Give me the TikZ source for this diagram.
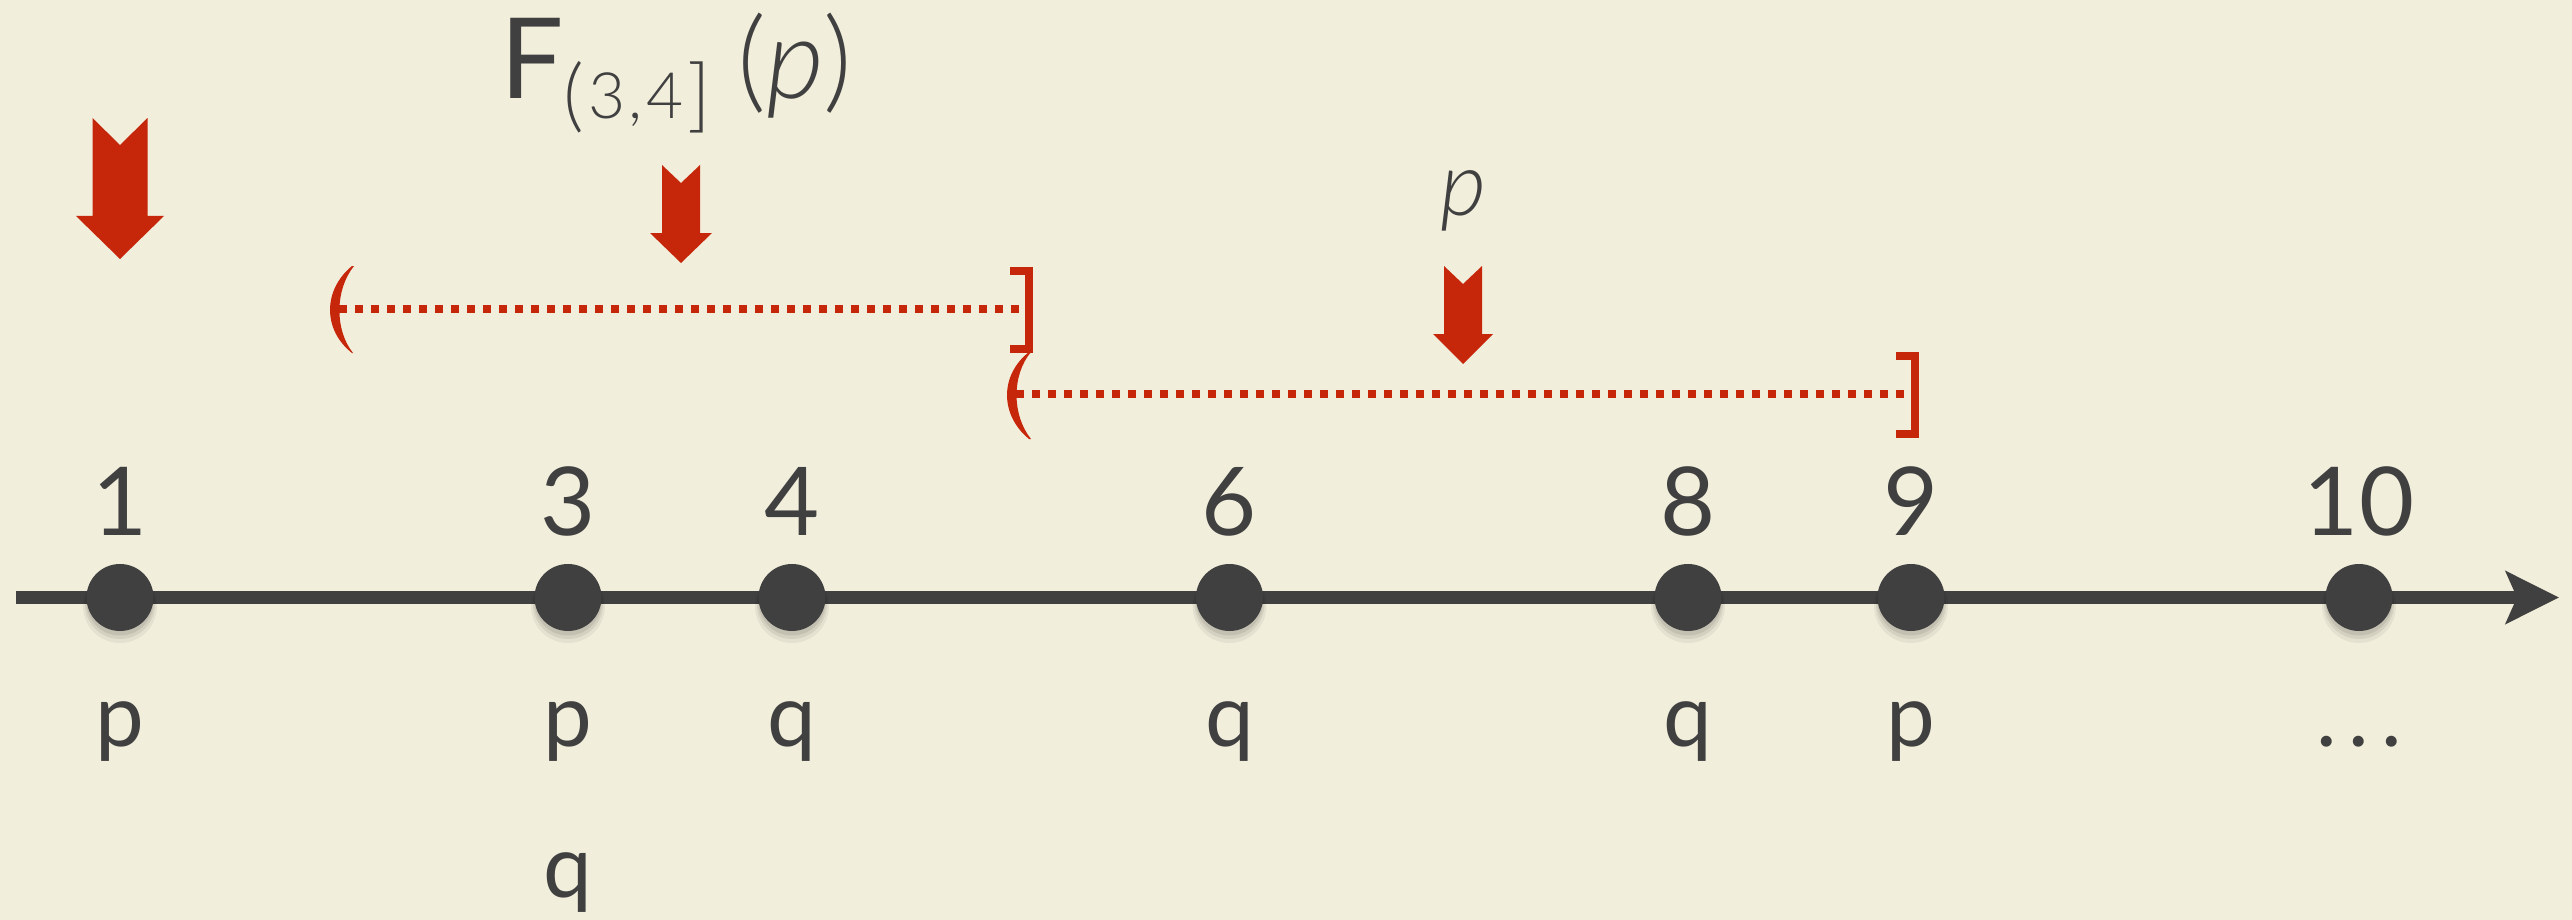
\documentclass[tikz,border=0pt]{standalone}
\usepackage{fontspec}
\setmainfont{Lato}
\newfontfamily\lightfont{Lato Light}
\usetikzlibrary{arrows.meta}
\definecolor{bg}{HTML}{F2EEDC}
\definecolor{ink}{HTML}{404040}
\definecolor{myred}{HTML}{C6260A}
\tikzset{
  pics/redarrow/.style n args={5}{code={
    \fill[myred] (-#1,0) -- (0,#2) -- (#1,0) -- (#1,#3) -- (#4,#3) -- (0,#5) -- (-#4,#3) -- (-#1,#3) -- cycle;}},
  numlbl/.style={inner sep=0pt, anchor=base, text=ink, font=\fontsize{95}{100}\selectfont},
  letlbl/.style={inner sep=0pt, anchor=base, text=ink, font=\fontsize{87}{95}\selectfont},
  dotnode/.style={circle, fill=ink, minimum size=67pt, inner sep=0pt},
  axisline/.style={draw=ink, line width=13pt, -{Stealth[length=53pt,width=52pt,inset=11pt]}},
  dotted interval/.style={draw=myred, line width=8pt, dash pattern=on 8pt off 8pt},
  bracketline/.style={draw=myred, line width=8pt},
}
\newcommand\bigdelim[1]{{\fontsize{80}{80}\selectfont\raisebox{-4pt}{#1}}}
\begin{document}
\begin{tikzpicture}[x=1pt,y=-1pt]
\fill[bg] (0,0) rectangle (2572,920);
\useasboundingbox (0,0) rectangle (2572,920);

% axis
\coordinate (axstart) at (16,597.5);
\coordinate (axend) at (2559,597.5);
\draw[axisline] (axstart) -- (axend);

% shadows
\foreach \x in {120,568,792,1229.5,1688,1911,2359}{
  \fill[black,opacity=0.05] (\x,606) circle (37pt);
  \fill[black,opacity=0.07] (\x,604) circle (35pt);
  \fill[black,opacity=0.08] (\x,602) circle (33.5pt);
}

% dots
\node[dotnode] (d1) at (120,597.5) {};
\node[dotnode] (d3) at (568,597.5) {};
\node[dotnode] (d4) at (792,597.5) {};
\node[dotnode] (d6) at (1229.5,597.5) {};
\node[dotnode] (d8) at (1688,597.5) {};
\node[dotnode] (d9) at (1911,597.5) {};
\node[dotnode] (d10) at (2359,597.5) {};

% numbers
\node[numlbl] (n1) at (120,535) {1};
\node[numlbl] (n3) at (568,535) {3};
\node[numlbl] (n4) at (792,535) {4};
\node[numlbl] (n6) at (1229.5,535) {6};
\node[numlbl] (n8) at (1688,535) {8};
\node[numlbl] (n9) at (1911,535) {9};
\node[numlbl] (n10) at (2359,535) {10};

% letters
\node[letlbl] (l1) at (120,746) {p};
\node[letlbl] (l3) at (568,746) {p};
\node[letlbl] (l3b) at (568,897) {q};
\node[letlbl] (l4) at (792,746) {q};
\node[letlbl] (l6) at (1229.5,746) {q};
\node[letlbl] (l8) at (1688,746) {q};
\node[letlbl] (l9) at (1911,746) {p};
\node[letlbl] (l10) at (2359,746) {.\kern12pt.\kern12pt.};

% red arrows
\pic at (120,118) {redarrow={27.5}{27}{98}{44}{141}};
\pic at (681,165) {redarrow={19}{18}{68}{31}{98}};
\pic at (1463,266) {redarrow={19}{18}{68}{30}{98}};

% top labels
\node[inner sep=0pt, anchor=base west, text=ink, font=\fontsize{112}{120}\selectfont] (F) at (500,99) {F};
\node[inner sep=0pt, anchor=base west, text=ink, font=\lightfont\fontsize{64}{70}\selectfont] (Fsub) at (563,119)
  {\bigdelim{(}\kern5pt3\kern3pt,\kern4pt4\kern3pt\bigdelim{]}};
\node[inner sep=0pt, anchor=base west, text=ink, font=\lightfont\fontsize{112}{120}\selectfont] (Farg) at (737,99) {(\textit{p})};
\node[inner sep=0pt, anchor=base, text=ink, font=\lightfont\fontsize{89}{95}\selectfont] (ptop) at (1463,215) {\textit{p}};

% interval 1: (3,4]
\fill[myred] (352,266) .. controls (322.7,290) and (322.7,330) .. (352,353)
   -- (353,353) .. controls (334.7,330) and (334.7,290) .. (354,266) -- cycle;
\coordinate (i1a) at (339,309);
\coordinate (i1b) at (1025,309);
\draw[dotted interval] (i1a) -- (i1b);
\draw[bracketline] (1010,270.5) -- (1029,270.5) -- (1029,348.5) -- (1010,348.5);

% interval 2: (4,9]
\fill[myred] (1029,352) .. controls (999.7,375) and (999.7,415) .. (1029,439)
   -- (1031,439) .. controls (1011.7,415) and (1011.7,375) .. (1031,352) -- cycle;
\coordinate (i2a) at (1016,394);
\coordinate (i2b) at (1911,394);
\draw[dotted interval] (i2a) -- (i2b);
\draw[bracketline] (1896,356) -- (1915,356) -- (1915,434) -- (1896,434);
\end{tikzpicture}
\end{document}
